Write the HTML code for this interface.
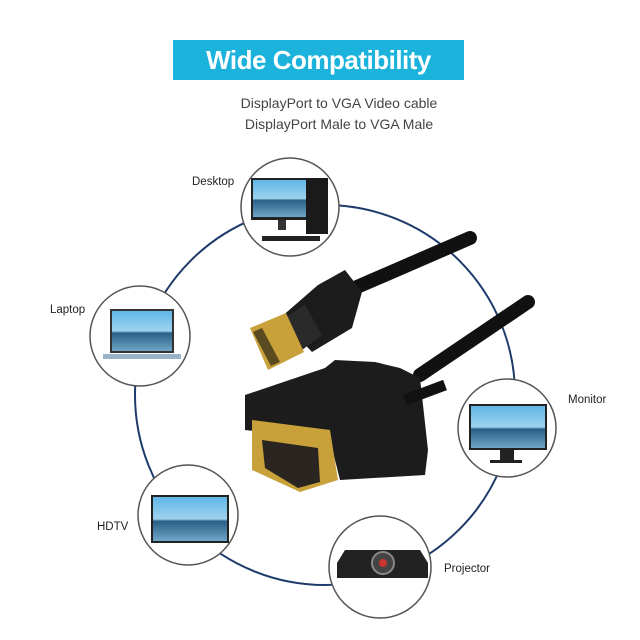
<!DOCTYPE html>
<html><head><meta charset="utf-8"><style>
body{margin:0;background:#fff;}
.wrap{position:relative;width:640px;height:640px;overflow:hidden;font-family:"Liberation Sans",sans-serif;}
.banner{position:absolute;left:173px;top:40px;width:291px;height:40px;background:#1bb3dc;color:#fff;font-weight:bold;font-size:26px;letter-spacing:-0.5px;text-align:center;line-height:40px;}
.sub{position:absolute;left:0;width:678px;text-align:center;font-size:14px;color:#444;}
.lbl{position:absolute;font-size:11.5px;color:#222;}
</style></head><body><div class="wrap">
<div class="banner">Wide Compatibility</div>
<div class="sub" style="top:95px">DisplayPort to VGA Video cable</div>
<div class="sub" style="top:116px">DisplayPort Male to VGA Male</div>
<svg width="640" height="640" style="position:absolute;left:0;top:0">
<defs><linearGradient id="sc" x1="0" y1="0" x2="0" y2="1"><stop offset="0" stop-color="#5fb6e8"/><stop offset="0.5" stop-color="#9fd3ee"/><stop offset="0.55" stop-color="#2b5f86"/><stop offset="1" stop-color="#6fa6c8"/></linearGradient></defs>
<circle cx="325" cy="395" r="190" fill="none" stroke="#1d3a6b" stroke-width="2"/>
<g fill="#fff" stroke="#555" stroke-width="1.5">
<circle cx="290" cy="207" r="49"/><circle cx="140" cy="336" r="50"/><circle cx="188" cy="515" r="50"/><circle cx="380" cy="567" r="51"/><circle cx="507" cy="428" r="49"/></g>
<rect x="251" y="178" width="62" height="42" fill="#222"/><rect x="253" y="180" width="58" height="37" fill="url(#sc)"/>
<rect x="306" y="178" width="22" height="56" fill="#1a1a1a"/><rect x="278" y="220" width="8" height="10" fill="#333"/>
<rect x="262" y="236" width="58" height="5" fill="#222"/>
<rect x="110" y="309" width="64" height="44" fill="#333"/><rect x="112" y="311" width="60" height="40" fill="url(#sc)"/>
<rect x="103" y="354" width="78" height="5" fill="#9ab3c8"/>
<rect x="151" y="495" width="78" height="48" fill="#222"/><rect x="153" y="497" width="74" height="44" fill="url(#sc)"/>
<rect x="469" y="404" width="78" height="46" fill="#222"/><rect x="471" y="406" width="74" height="42" fill="url(#sc)"/>
<rect x="500" y="450" width="14" height="10" fill="#222"/><rect x="490" y="460" width="32" height="3" fill="#222"/>
<path d="M337 563 L345 550 L420 550 L428 563 L428 578 L337 578Z" fill="#222"/>
<circle cx="383" cy="563" r="11" fill="#444" stroke="#888" stroke-width="2"/><circle cx="383" cy="563" r="4" fill="#c33"/>
<path d="M350 290 L470 238" stroke="#111" stroke-width="14" stroke-linecap="round"/>
<path d="M420 375 L528 302" stroke="#111" stroke-width="14" stroke-linecap="round"/>
<polygon points="280,318 318,285 345,270 362,292 352,328 312,352" fill="#1c1c1c"/>
<polygon points="278,322 305,305 322,335 302,350" fill="#2a2a2a"/>
<polygon points="250,328 286,313 304,352 268,370" fill="#c9a13a"/>
<polygon points="253,332 262,328 280,362 271,366" fill="#5a4a20"/>
<polygon points="245,395 325,368 335,360 375,362 400,368 420,378 428,450 425,475 340,480 330,440 245,430" fill="#1c1c1c"/>
<polygon points="252,420 330,430 338,480 300,492 252,470" fill="#c9a13a"/>
<polygon points="262,440 318,448 320,482 298,488 265,468" fill="#2a2520"/>
<path d="M405 400 L445 385" stroke="#111" stroke-width="11"/>
</svg>
<div class="lbl" style="left:192px;top:176px">Desktop</div>
<div class="lbl" style="left:50px;top:304px">Laptop</div>
<div class="lbl" style="left:568px;top:394px">Monitor</div>
<div class="lbl" style="left:97px;top:521px">HDTV</div>
<div class="lbl" style="left:444px;top:563px">Projector</div>
</div></body></html>
